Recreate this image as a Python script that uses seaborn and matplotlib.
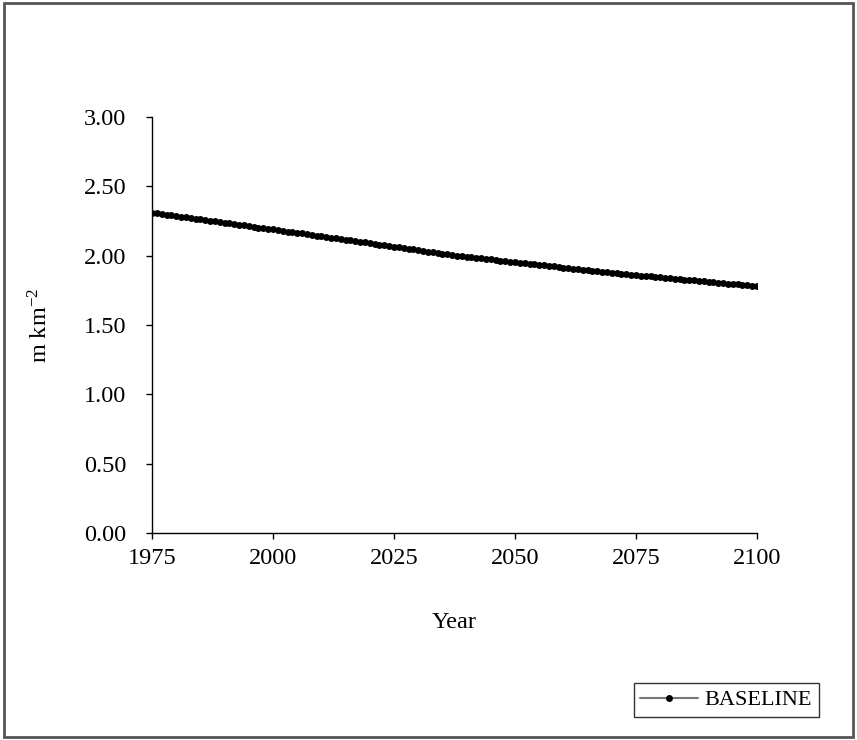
import matplotlib
matplotlib.use('Agg')
import matplotlib.pyplot as plt
from matplotlib.patches import Rectangle
import numpy as np
import pandas as pd
import seaborn as sns

# yearly values (m km-2)
baseline = [
    2.310, 2.305, 2.300, 2.296, 2.291, 2.286, 2.281, 2.276, 2.271, 2.267,  # 1975-1984
    2.262, 2.257, 2.252, 2.247, 2.242, 2.237, 2.232, 2.228, 2.223, 2.218,  # 1985-1994
    2.213, 2.208, 2.203, 2.199, 2.194, 2.189, 2.184, 2.179, 2.174, 2.170,  # 1995-2004
    2.165, 2.160, 2.155, 2.150, 2.145, 2.140, 2.135, 2.130, 2.125, 2.120,  # 2005-2014
    2.115, 2.110, 2.105, 2.100, 2.095, 2.090, 2.085, 2.080, 2.075, 2.070,  # 2015-2024
    2.065, 2.060, 2.055, 2.050, 2.045, 2.040, 2.035, 2.030, 2.025, 2.020,  # 2025-2034
    2.015, 2.010, 2.005, 2.000, 1.996, 1.992, 1.988, 1.984, 1.980, 1.977,  # 2035-2044
    1.973, 1.969, 1.965, 1.961, 1.957, 1.953, 1.949, 1.945, 1.941, 1.938,  # 2045-2054
    1.934, 1.930, 1.926, 1.922, 1.918, 1.914, 1.910, 1.906, 1.903, 1.899,  # 2055-2064
    1.895, 1.891, 1.887, 1.883, 1.879, 1.875, 1.872, 1.869, 1.865, 1.862,  # 2065-2074
    1.859, 1.856, 1.853, 1.850, 1.846, 1.843, 1.840, 1.837, 1.834, 1.831,  # 2075-2084
    1.827, 1.824, 1.821, 1.818, 1.815, 1.812, 1.808, 1.805, 1.802, 1.799,  # 2085-2094
    1.796, 1.793, 1.789, 1.786, 1.783, 1.780,                              # 2095-2100
]
years = list(range(1975, 1975 + len(baseline)))
x_ticks = [1975, 2000, 2025, 2050, 2075, 2100]
y_ticks = [0.0, 0.5, 1.0, 1.5, 2.0, 2.5, 3.0]

sns.set_style('ticks')
plt.rcParams['font.family'] = ['Liberation Serif', 'DejaVu Serif']
plt.rcParams['mathtext.fontset'] = 'stix'
plt.rcParams['text.color'] = 'black'
plt.rcParams['axes.labelcolor'] = 'black'
plt.rcParams['xtick.color'] = 'black'
plt.rcParams['ytick.color'] = 'black'

df = pd.DataFrame({'Year': years, 'value': baseline, 'series': 'BASELINE'})

fig = plt.figure(figsize=(8.57, 7.40), dpi=100)
ax = fig.add_axes([152/857, 1 - 533/740, 605/857, 416/740])

sns.lineplot(data=df, x='Year', y='value', hue='series', palette=['black'],
             marker='o', markersize=5, markeredgewidth=0, linewidth=1,
             ax=ax, legend=False)

ax.set_xlim(1975, 2100)
ax.set_ylim(0, 3)
ax.set_xticks(x_ticks)
ax.set_yticks(y_ticks)
ax.set_yticklabels(['%.2f' % v for v in y_ticks])
ax.tick_params(axis='both', labelsize=17.5, labelcolor='black', color='black',
               width=1, length=4.5)
ax.tick_params(axis='y', pad=14)
ax.tick_params(axis='x', pad=6)
for s in ['top', 'right']:
    ax.spines[s].set_visible(False)
for s in ['left', 'bottom']:
    ax.spines[s].set_color('black')
    ax.spines[s].set_linewidth(1)

ax.set_xlabel('Year', fontsize=17.5)
ax.set_ylabel('m km$^{\\mathregular{-2}}$', fontsize=17.5)
ax.xaxis.set_label_coords(0.5, -0.214)
ax.xaxis.label.set_va('center')
ax.yaxis.set_label_coords(-0.185, 0.5)
ax.yaxis.label.set_va('center')

line = ax.lines[0]
leg = fig.legend([line], ['BASELINE'], loc='lower right',
                 bbox_to_anchor=(819/857, 23/740), fontsize=16,
                 frameon=True, fancybox=False, handlelength=2.6,
                 borderpad=0.3, handletextpad=0.3, borderaxespad=0)
leg.get_frame().set_edgecolor('black')
leg.get_frame().set_linewidth(1)
leg.legend_handles[0].set_color('#777777')
leg.legend_handles[0].set_linewidth(1.5)
leg.legend_handles[0].set_markerfacecolor('black')
leg.legend_handles[0].set_markersize(5)

fig.patches.append(Rectangle((4/857, 3/740), 849/857, 734/740, fill=False,
                             edgecolor='#555555', linewidth=2,
                             transform=fig.transFigure, figure=fig))

fig.savefig('out.png', dpi=100)
